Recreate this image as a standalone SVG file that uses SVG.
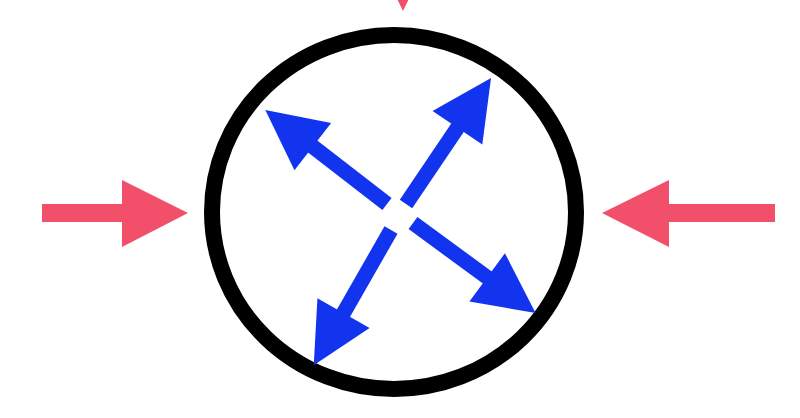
<svg xmlns="http://www.w3.org/2000/svg" width="800" height="418" viewBox="0 0 800 418">
  <style>
    .shaft { stroke: #1234ee; stroke-width: 15; fill: none; stroke-linecap: butt; }
    .red { fill: #f2506a; }
  </style>
  <defs>
    <marker id="bluehead" markerUnits="userSpaceOnUse" markerWidth="60" markerHeight="60" viewBox="0 -30 60 60" refX="1" refY="0" orient="auto" overflow="visible">
      <path d="M0,-30 L60,0 L0,30 Z" fill="#1234ee"/>
    </marker>
  </defs>
  <rect width="800" height="418" fill="#ffffff"/>
  <g id="vessel">
    <ellipse cx="394" cy="212" rx="182" ry="177" fill="none" stroke="#000000" stroke-width="16"/>
  </g>
  <g id="connectors">
    <g id="outward">
      <line class="shaft" x1="387" y1="204" x2="312" y2="146" marker-end="url(#bluehead)"/>
      <line class="shaft" x1="406" y1="204" x2="458" y2="127" marker-end="url(#bluehead)"/>
      <line class="shaft" x1="413" y1="223" x2="488" y2="278" marker-end="url(#bluehead)"/>
      <line class="shaft" x1="391" y1="230" x2="343" y2="314" marker-end="url(#bluehead)"/>
    </g>
    <g id="inward">
      <path class="red" d="M42,204 H122 V180 L188,213 L122,247 V222 H42 Z"/>
      <path class="red" d="M775,204 H669 V180 L602,213 L669,247 V222 H775 Z"/>
      <path class="red" d="M394,-80 H412 V-57 H436 L403,11 L370,-57 H394 Z"/>
    </g>
  </g>
</svg>
